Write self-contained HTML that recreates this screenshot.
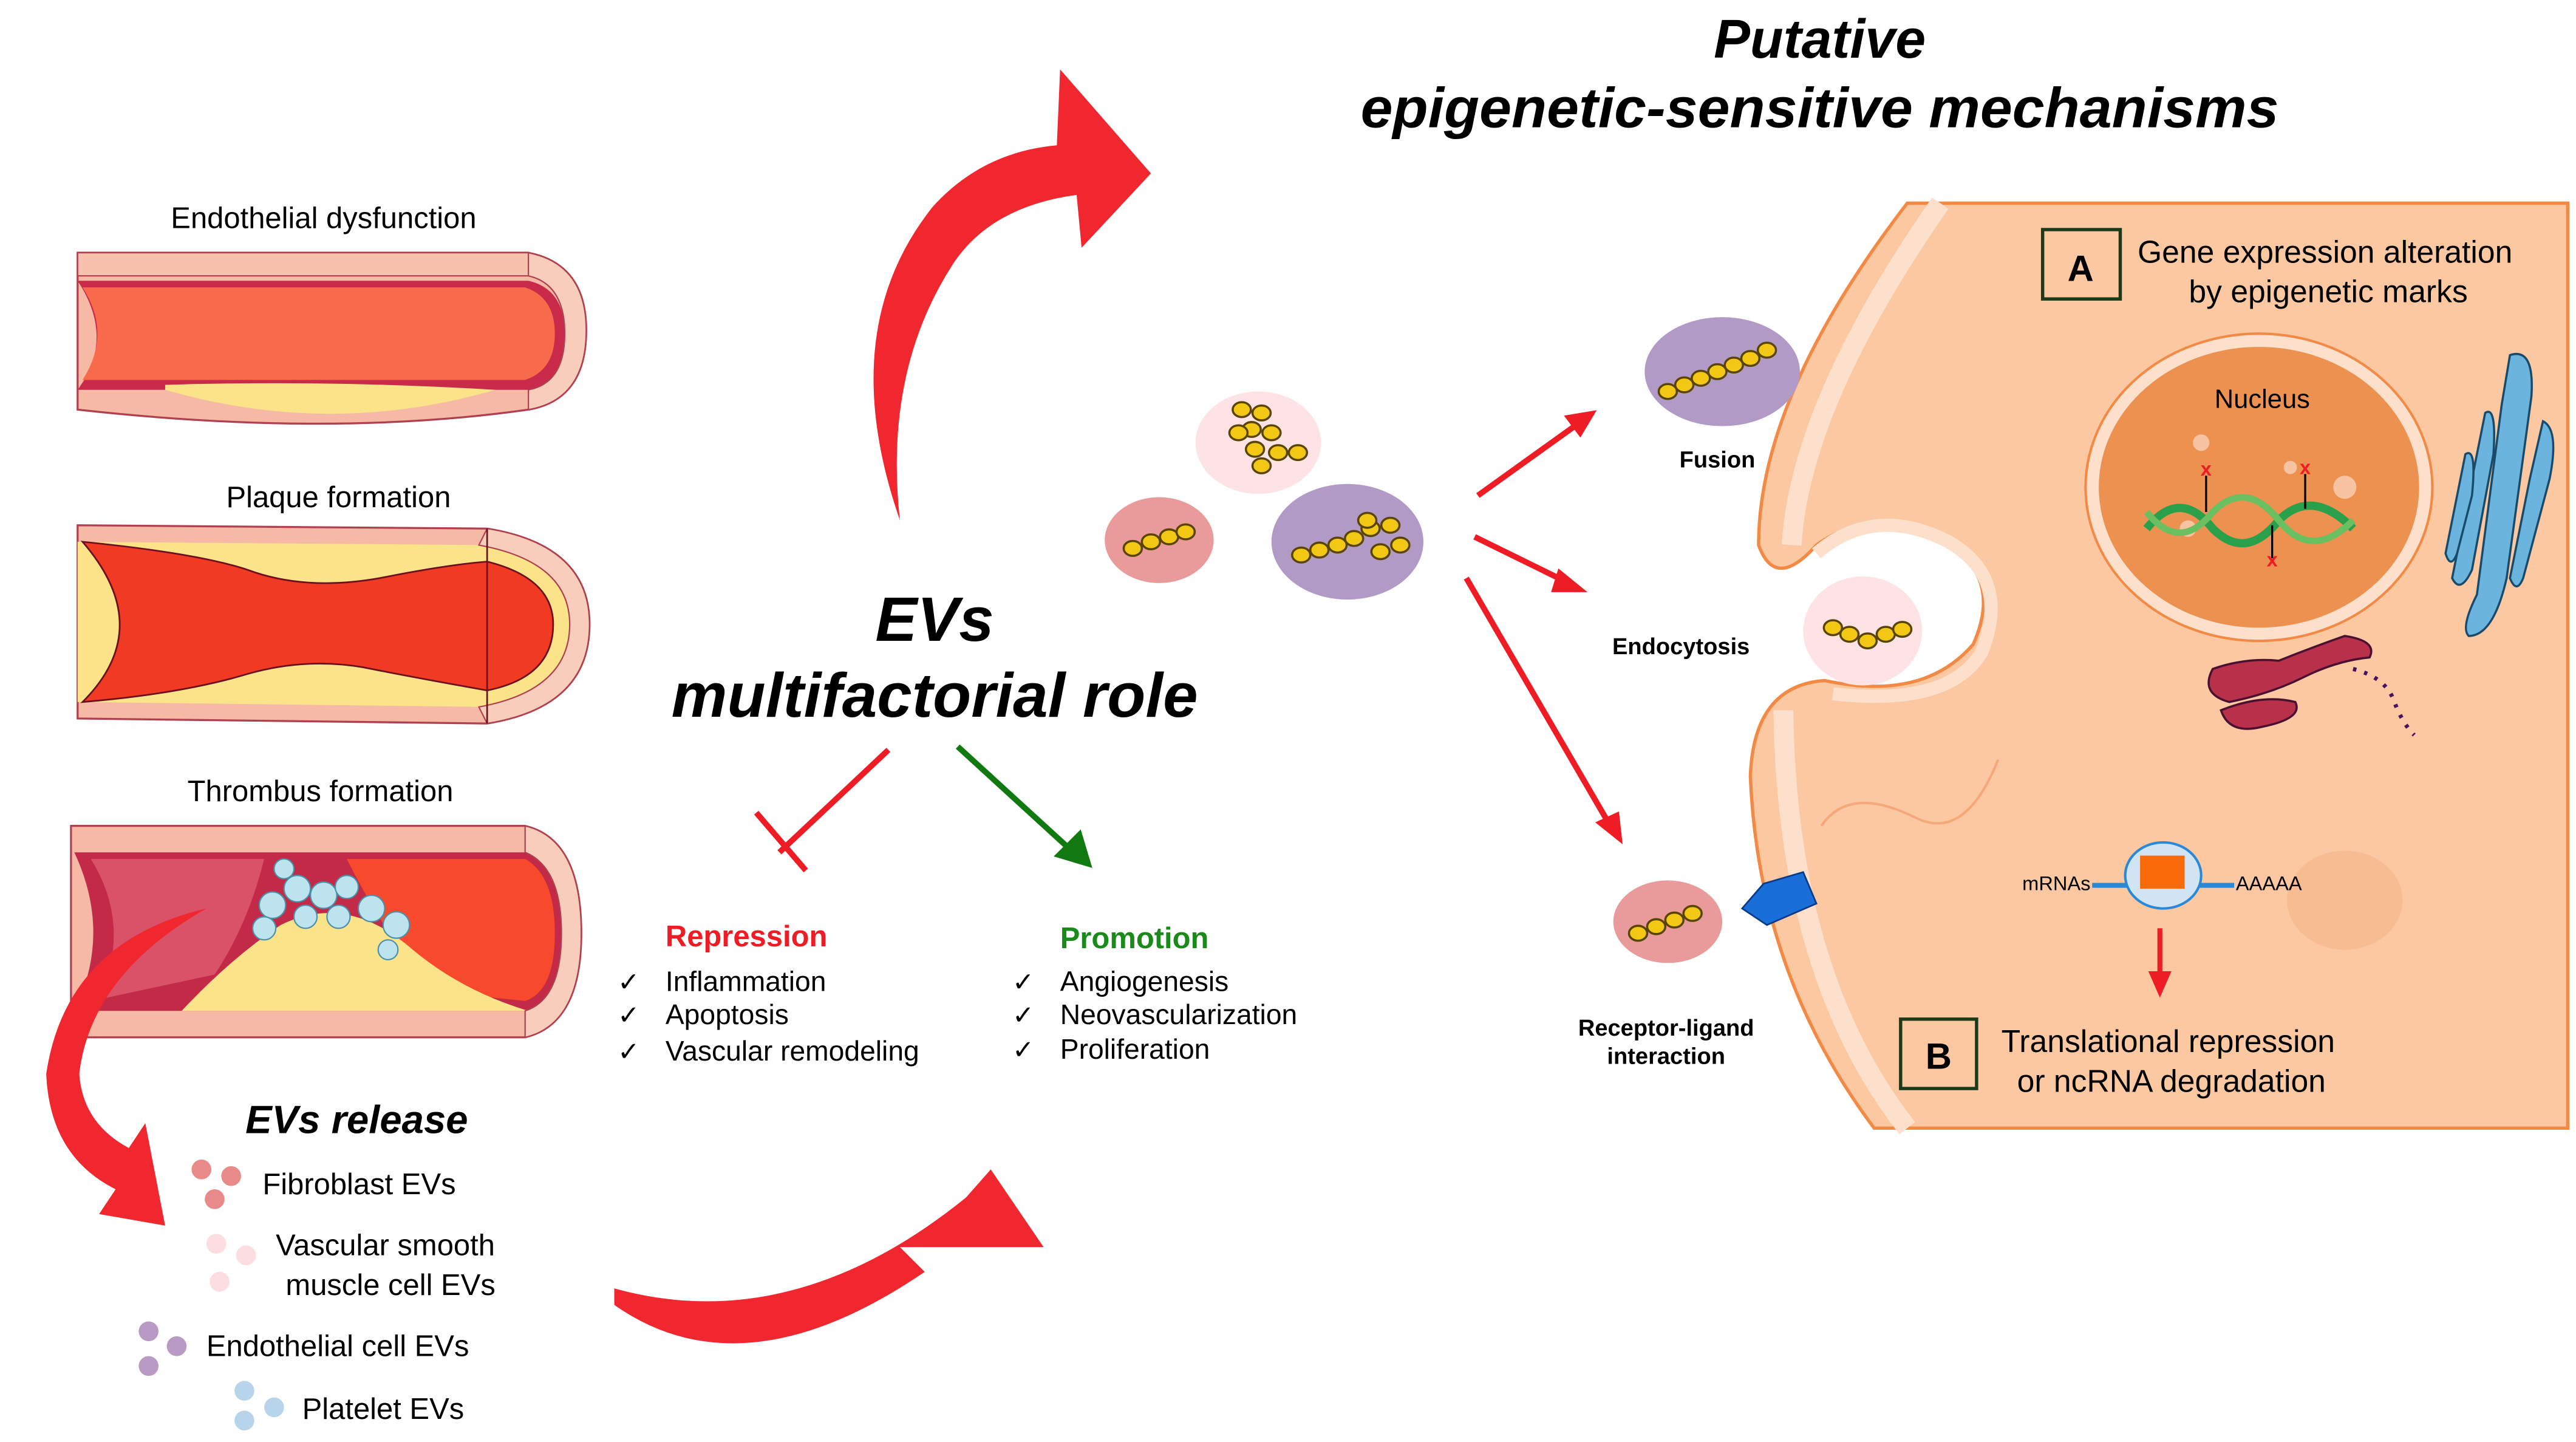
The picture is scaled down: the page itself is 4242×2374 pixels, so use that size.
<!DOCTYPE html>
<html><head><meta charset="utf-8"><style>
html,body{margin:0;padding:0;background:#fff;}
svg{display:block;}
text{font-family:"Liberation Sans",Arial,sans-serif;}
</style></head><body>
<svg width="4242" height="2374" viewBox="0 0 1560 873" preserveAspectRatio="none" xmlns="http://www.w3.org/2000/svg">
<defs>
<g id="bead"><ellipse rx="5.5" ry="4.5" fill="#f3c814" stroke="#5a4500" stroke-width="1.3"/></g>
</defs>

<!-- Titles -->
<text x="1102" y="35" font-size="33" font-weight="bold" font-style="italic" text-anchor="middle">Putative</text>
<text x="1102" y="77" font-size="34" font-weight="bold" font-style="italic" text-anchor="middle" textLength="556" lengthAdjust="spacingAndGlyphs">epigenetic-sensitive mechanisms</text>

<!-- Left labels -->
<text x="196" y="138" font-size="18" text-anchor="middle">Endothelial dysfunction</text>
<text x="205" y="307" font-size="18" text-anchor="middle">Plaque formation</text>
<text x="194" y="485" font-size="18" text-anchor="middle">Thrombus formation</text>

<!-- Vessel 1 -->
<g>
<path d="M47,153 L320,153 Q355,160 355,200 Q355,242 320,248 L320,248 Q200,265 47,248 Z" fill="#f6b9a6" stroke="#b04050" stroke-width="1.2"/>
<rect x="47" y="153" width="273" height="14" fill="#f7c1ae" stroke="#b04050" stroke-width="0.8"/>
<path d="M47,170 L320,170 Q342,175 342,202 Q342,232 320,236 L300,236 Q200,242 100,236 L47,236 Q70,205 47,170Z" fill="#c92a4a"/>
<path d="M50,174 L318,174 Q336,180 336,202 Q336,224 318,230 L50,230 Q68,202 50,174Z" fill="#f86a4c"/>
<path d="M100,233 Q200,230 300,236 Q200,265 100,236Z" fill="#fbe38a"/>
<path d="M320,153 Q355,160 355,200 Q355,242 320,248 L320,236 Q342,232 342,202 Q342,172 320,167Z" fill="#f8cdbb" stroke="#b04050" stroke-width="0.8"/>
</g>

<!-- Vessel 2 -->
<g>
<path d="M47,318 L295,320 Q357,330 357,378 Q357,428 295,438 L47,435 Z" fill="#f6b9a6" stroke="#b04050" stroke-width="1.2"/>
<path d="M47,328 L295,330 Q345,340 345,378 Q345,418 295,428 L47,425 Z" fill="#fbe38a"/>
<path d="M50,328 Q120,335 150,345 Q185,358 230,350 Q270,342 295,340 Q335,350 335,378 Q335,410 295,418 Q250,410 220,404 Q185,398 150,408 Q110,420 50,425 Q95,380 50,328Z" fill="#f03a24" stroke="#6a1020" stroke-width="1"/>
<path d="M290,330 Q345,340 345,378 Q345,418 290,428 L295,438 Q357,428 357,378 Q357,330 295,320Z" fill="#f8cdbb" stroke="#b04050" stroke-width="0.8"/>
<line x1="295" y1="320" x2="295" y2="438" stroke="#6a1020" stroke-width="1"/>
</g>

<!-- Vessel 3 -->
<g>
<path d="M43,500 L318,500 Q352,508 352,565 Q352,620 318,628 L43,628 Z" fill="#f6b9a6" stroke="#b04050" stroke-width="1.2"/>
<path d="M45,516 L318,516 Q340,525 340,565 Q340,605 318,612 L45,612 Q68,565 45,516Z" fill="#c22a48"/>
<path d="M55,520 L160,520 Q150,560 130,590 L60,605 Q80,560 55,520Z" fill="#d95268"/>
<path d="M210,520 L318,520 Q336,530 336,565 Q336,600 318,606 L260,600 Q230,560 210,520Z" fill="#f74a2c"/>
<path d="M110,612 Q140,580 170,560 Q210,540 250,575 Q280,600 320,612Z" fill="#fbe38a"/>
<g fill="#bde4ee" stroke="#4a90a8" stroke-width="0.8">
<circle cx="165" cy="548" r="8"/><circle cx="180" cy="538" r="8"/><circle cx="196" cy="542" r="8"/><circle cx="210" cy="537" r="7"/><circle cx="225" cy="550" r="8"/><circle cx="240" cy="560" r="8"/><circle cx="160" cy="562" r="7"/><circle cx="185" cy="555" r="7"/><circle cx="205" cy="555" r="7"/><circle cx="235" cy="575" r="6"/><circle cx="172" cy="526" r="6"/>
</g>
<path d="M318,500 Q352,508 352,565 Q352,620 318,628 L318,612 Q340,605 340,565 Q340,525 318,516Z" fill="#f8cdbb" stroke="#b04050" stroke-width="0.8"/>
</g>

<!-- Red curved arrows -->
<g fill="#f0272e">
<path d="M125,550 Q40,570 28,650 Q30,700 70,720 L60,735 L100,742 L88,680 L78,695 Q50,680 48,650 Q55,590 125,550Z"/>
<path d="M372,790 Q450,845 560,770 L545,755 L632,755 L600,708 L585,725 Q480,810 372,780Z"/>
<path d="M545,315 Q505,200 565,125 Q595,92 640,88 L642,42 L697,105 L655,150 L652,118 Q600,125 577,160 Q535,225 545,315Z"/>
</g>

<!-- EVs release -->
<text x="216" y="686" font-size="24" font-weight="bold" font-style="italic" text-anchor="middle">EVs release</text>
<g fill="#e98a8a"><circle cx="122" cy="708" r="6"/><circle cx="140" cy="712" r="6"/><circle cx="130" cy="726" r="6"/></g>
<text x="159" y="723" font-size="18">Fibroblast EVs</text>
<g fill="#fbdde2"><circle cx="131" cy="753" r="6"/><circle cx="149" cy="760" r="6"/><circle cx="133" cy="776" r="6"/></g>
<text x="167" y="760" font-size="18">Vascular smooth</text>
<text x="173" y="784" font-size="18">muscle cell EVs</text>
<g fill="#b89ac4"><circle cx="90" cy="806" r="6"/><circle cx="107" cy="815" r="6"/><circle cx="90" cy="827" r="6"/></g>
<text x="125" y="821" font-size="18">Endothelial cell EVs</text>
<g fill="#b8d4ea"><circle cx="148" cy="842" r="6"/><circle cx="166" cy="852" r="6"/><circle cx="148" cy="860" r="6"/></g>
<text x="183" y="859" font-size="18">Platelet EVs</text>

<!-- Center -->
<text x="566" y="388" font-size="38" font-weight="bold" font-style="italic" text-anchor="middle">EVs</text>
<text x="566" y="434" font-size="38" font-weight="bold" font-style="italic" text-anchor="middle">multifactorial role</text>
<line x1="538" y1="454" x2="472" y2="516" stroke="#ee1c24" stroke-width="3.5"/>
<line x1="458" y1="492" x2="488" y2="527" stroke="#ee1c24" stroke-width="3.5"/>
<line x1="580" y1="452" x2="650" y2="516" stroke="#107a10" stroke-width="3.5"/>
<path d="M660,524 L640,518 L654,504Z" fill="#107a10" stroke="#107a10" stroke-width="2"/>
<text x="403" y="573" font-size="18" font-weight="bold" fill="#ee1c24">Repression</text>
<text x="374" y="600" font-size="16">✓</text><text x="403" y="600" font-size="17">Inflammation</text>
<text x="374" y="620" font-size="16">✓</text><text x="403" y="620" font-size="17">Apoptosis</text>
<text x="374" y="642" font-size="16">✓</text><text x="403" y="642" font-size="17">Vascular remodeling</text>
<text x="642" y="574" font-size="18" font-weight="bold" fill="#1a8a1a">Promotion</text>
<text x="613" y="600" font-size="16">✓</text><text x="642" y="600" font-size="17">Angiogenesis</text>
<text x="613" y="620" font-size="16">✓</text><text x="642" y="620" font-size="17">Neovascularization</text>
<text x="613" y="641" font-size="16">✓</text><text x="642" y="641" font-size="17">Proliferation</text>

<!-- EV cluster -->
<ellipse cx="762" cy="268" rx="38" ry="31" fill="#fde3e6"/>
<ellipse cx="702" cy="327" rx="33" ry="26" fill="#e99a9a"/>
<ellipse cx="816" cy="328" rx="46" ry="35" fill="#b29ac6"/>
<g>
<use href="#bead" x="752" y="248"/><use href="#bead" x="764" y="250"/><use href="#bead" x="758" y="260"/><use href="#bead" x="770" y="262"/><use href="#bead" x="760" y="272"/><use href="#bead" x="774" y="274"/><use href="#bead" x="786" y="274"/><use href="#bead" x="764" y="282"/><use href="#bead" x="750" y="262"/>
<use href="#bead" x="686" y="332"/><use href="#bead" x="697" y="328"/><use href="#bead" x="708" y="325"/><use href="#bead" x="718" y="322"/>
<use href="#bead" x="788" y="336"/><use href="#bead" x="799" y="333"/><use href="#bead" x="810" y="330"/><use href="#bead" x="820" y="326"/><use href="#bead" x="830" y="320"/><use href="#bead" x="842" y="318"/><use href="#bead" x="848" y="330"/><use href="#bead" x="836" y="334"/><use href="#bead" x="828" y="315"/>
</g>

<!-- Right red arrows -->
<g stroke="#ee1c24" stroke-width="3.5" fill="#ee1c24">
<line x1="895" y1="300" x2="955" y2="257"/><path d="M966,249 L948,252 L957,264Z" stroke-width="1"/>
<line x1="893" y1="325" x2="948" y2="352"/><path d="M960,358 L944,345 L940,358Z" stroke-width="1"/>
<line x1="888" y1="350" x2="974" y2="498"/><path d="M982,510 L967,498 L980,492Z" stroke-width="1"/>
</g>

<!-- Cell -->
<path d="M1155,123 L1555,123 L1555,683 L1135,683 Q1065,590 1060,470 Q1062,415 1105,412 Q1165,425 1195,390 Q1215,345 1170,325 Q1130,308 1100,330 Q1075,358 1065,330 Q1065,240 1155,123Z" fill="#fbc8a2" stroke="#f28a45" stroke-width="2"/>
<path d="M1175,123 Q1090,245 1085,330 M1080,430 Q1082,590 1155,683" fill="none" stroke="#fde0cc" stroke-width="12"/>
<path d="M1100,335 Q1135,305 1180,328 Q1218,350 1200,395 Q1180,428 1110,420" fill="none" stroke="#fde0cc" stroke-width="8"/>
<path d="M1103,500 Q1120,475 1160,495 Q1190,510 1210,460" fill="none" stroke="#f6a87a" stroke-width="1.5"/>
<ellipse cx="1128" cy="382" rx="36" ry="33" fill="#fde3e6"/>
<g><use href="#bead" x="1110" y="380"/><use href="#bead" x="1120" y="384"/><use href="#bead" x="1131" y="388"/><use href="#bead" x="1142" y="384"/><use href="#bead" x="1152" y="381"/></g>
<ellipse cx="1420" cy="545" rx="35" ry="30" fill="#f8bc92"/>

<!-- Fusion -->
<ellipse cx="1043" cy="225" rx="47" ry="33" fill="#b29ac6"/>
<g><use href="#bead" x="1010" y="237"/><use href="#bead" x="1020" y="233"/><use href="#bead" x="1030" y="229"/><use href="#bead" x="1040" y="225"/><use href="#bead" x="1050" y="221"/><use href="#bead" x="1060" y="217"/><use href="#bead" x="1070" y="212"/></g>
<text x="1040" y="283" font-size="14" font-weight="bold" text-anchor="middle">Fusion</text>
<text x="1018" y="396" font-size="14" font-weight="bold" text-anchor="middle">Endocytosis</text>

<!-- Receptor -->
<ellipse cx="1010" cy="558" rx="33" ry="25" fill="#e99a9a"/>
<g><use href="#bead" x="992" y="565"/><use href="#bead" x="1003" y="561"/><use href="#bead" x="1014" y="557"/><use href="#bead" x="1025" y="553"/></g>
<path d="M1055,550 L1068,535 L1092,528 L1100,547 L1070,560Z" fill="#1a6ed8" stroke="#0a3a8a" stroke-width="1"/>
<text x="1009" y="627" font-size="14" font-weight="bold" text-anchor="middle">Receptor-ligand</text>
<text x="1009" y="644" font-size="14" font-weight="bold" text-anchor="middle">interaction</text>

<!-- A box -->
<rect x="1237" y="139" width="47" height="42" fill="none" stroke="#1a3a1a" stroke-width="2"/>
<text x="1260" y="170" font-size="22" font-weight="bold" text-anchor="middle">A</text>
<text x="1408" y="159" font-size="19" text-anchor="middle">Gene expression alteration</text>
<text x="1410" y="183" font-size="19" text-anchor="middle">by epigenetic marks</text>

<!-- Nucleus -->
<ellipse cx="1368" cy="295" rx="105" ry="93" fill="#fde0cc" stroke="#f28a45" stroke-width="1.5"/>
<ellipse cx="1368" cy="295" rx="97" ry="85" fill="#ec9150"/>
<text x="1370" y="247" font-size="16" text-anchor="middle">Nucleus</text>
<g fill="#f7c3a0"><circle cx="1333" cy="268" r="5"/><circle cx="1387" cy="283" r="4"/><circle cx="1420" cy="295" r="7"/><circle cx="1325" cy="320" r="5"/></g>
<path d="M1300,320 Q1320,295 1340,320 Q1360,340 1380,315 Q1400,295 1425,320" fill="none" stroke="#2aa04a" stroke-width="5"/>
<path d="M1300,310 Q1320,335 1340,310 Q1360,290 1380,315 Q1400,340 1425,315" fill="none" stroke="#6ac060" stroke-width="4"/>
<g stroke="#000" stroke-width="1.2"><line x1="1336" y1="288" x2="1336" y2="310"/><line x1="1396" y1="287" x2="1396" y2="308"/><line x1="1376" y1="318" x2="1376" y2="338"/></g>
<g fill="#ee1c24" font-size="12" font-weight="bold" text-anchor="middle"><text x="1336" y="288">x</text><text x="1396" y="287">x</text><text x="1376" y="343">x</text></g>

<!-- Golgi -->
<g fill="#6ab4de" stroke="#1a4a6a" stroke-width="1.3">
<path d="M1520,215 Q1535,210 1533,240 L1518,350 Q1510,385 1495,385 Q1490,380 1500,360 L1515,245Z"/>
<path d="M1505,250 Q1512,245 1510,275 L1497,345 Q1490,360 1485,350 L1500,275Z"/>
<path d="M1540,255 Q1550,260 1544,290 L1528,350 Q1524,360 1520,350 L1532,290Z"/>
<path d="M1493,275 Q1500,270 1497,300 L1488,335 Q1484,345 1481,335 L1488,300Z"/>
</g>
<!-- Mitochondria/ER -->
<g fill="#b8304a" stroke="#4a1030" stroke-width="1.3">
<path d="M1340,405 Q1360,398 1380,400 Q1400,392 1420,385 Q1440,388 1435,398 Q1415,400 1395,410 Q1375,420 1350,425 Q1332,420 1340,405Z"/>
<path d="M1345,430 Q1370,420 1390,425 Q1395,435 1370,440 Q1350,445 1345,430Z"/>
</g>
<path d="M1425,405 Q1445,410 1450,425 Q1455,438 1462,445" fill="none" stroke="#4a1060" stroke-width="2.5" stroke-dasharray="2,5"/>

<!-- mRNA -->
<line x1="1267" y1="536" x2="1353" y2="536" stroke="#2a88d8" stroke-width="3"/>
<ellipse cx="1310" cy="530" rx="23" ry="20" fill="#d0e4f4" stroke="#2a88d8" stroke-width="1.5"/>
<rect x="1296" y="518" width="27" height="20" fill="#f86a0a"/>
<text x="1266" y="539" font-size="12" text-anchor="end">mRNAs</text>
<text x="1354" y="539" font-size="12">AAAAA</text>
<line x1="1308" y1="562" x2="1308" y2="590" stroke="#ee1c24" stroke-width="3"/>
<path d="M1301,588 L1315,588 L1308,604Z" fill="#ee1c24"/>

<!-- B box -->
<rect x="1151" y="617" width="46" height="42" fill="none" stroke="#1a3a1a" stroke-width="2"/>
<text x="1174" y="647" font-size="22" font-weight="bold" text-anchor="middle">B</text>
<text x="1313" y="637" font-size="19" text-anchor="middle">Translational repression</text>
<text x="1315" y="661" font-size="19" text-anchor="middle">or ncRNA degradation</text>
</svg>
</body></html>
